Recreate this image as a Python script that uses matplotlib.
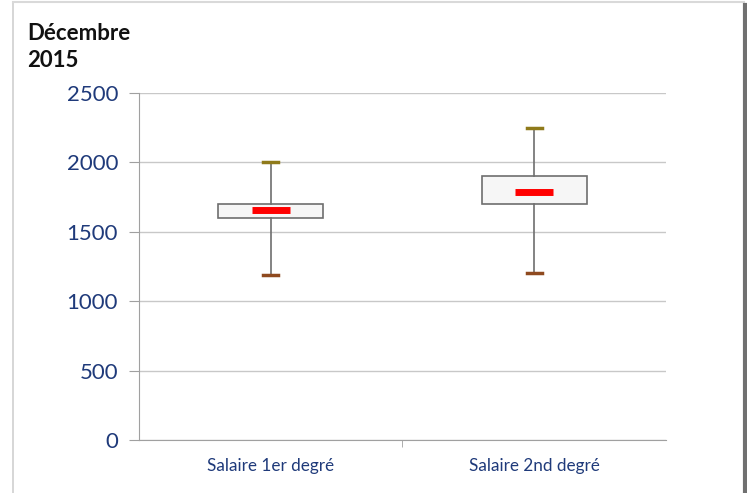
import matplotlib
matplotlib.use("Agg")
import matplotlib.pyplot as plt
from matplotlib.lines import Line2D

# data
labels = ["Salaire 1er degré", "Salaire 2nd degré"]
whislo = [1190, 1200]
q1 = [1600, 1700]
medians = [1660, 1785]
q3 = [1700, 1900]
whishi = [2000, 2250]
yticks = [0, 500, 1000, 1500, 2000, 2500]

plt.rcParams['font.family'] = ['Lato', 'DejaVu Sans']

fig = plt.figure(figsize=(7.47, 4.93), dpi=100)
ax = fig.add_axes([0.186, 0.1075, 0.7056, 0.704])

stats = []
for i in range(len(labels)):
    stats.append(dict(label=labels[i], whislo=whislo[i], q1=q1[i], med=medians[i],
                      q3=q3[i], whishi=whishi[i], fliers=[]))

pos = [1, 2]
bp = ax.bxp(stats, positions=pos, widths=0.4, capwidths=0.055, patch_artist=True,
            showfliers=False,
            boxprops=dict(facecolor='#f6f6f6', edgecolor='#6e6e6e', linewidth=1.2),
            whiskerprops=dict(color='#6e6e6e', linewidth=1.2),
            capprops=dict(linewidth=2.5),
            medianprops=dict(visible=False))

# bottom caps brownish, top caps gold
for k, cap in enumerate(bp['caps']):
    if k % 2 == 0:
        cap.set_color('#8f4a1f')
    else:
        cap.set_color('#8f7a1a')

ax.hlines(medians, [p - 0.072 for p in pos], [p + 0.072 for p in pos],
          colors='#ff0000', linewidth=5, zorder=5)

ax.set_xlim(0.5, 2.5)
ax.set_ylim(0, 2500)
ax.set_yticks(yticks)
ax.set_xticks([1.5], minor=True)
ax.set_xticks(pos)
ax.set_xticklabels(labels)
ax.tick_params(axis='x', which='major', length=0, pad=13, labelsize=12.3, labelcolor='#1f3a7a')
ax.tick_params(axis='x', which='minor', length=5, color='#a0a0a0')
ax.tick_params(axis='y', length=7, color='#a0a0a0', labelsize=16, labelcolor='#1f3a7a', pad=8)

ax.yaxis.grid(True, color='#c8c8c8', linewidth=1)
ax.set_axisbelow(True)
for s in ['top', 'right']:
    ax.spines[s].set_visible(False)
ax.spines['left'].set_color('#a0a0a0')
ax.spines['bottom'].set_color('#a0a0a0')

fig.text(0.036, 0.905, "Décembre\n2015", fontsize=16, fontweight='bold',
         color='#111111', va='center', ha='left', linespacing=1.35)

# outer frame
fig.add_artist(Line2D([0.0174, 0.0174], [0, 0.996], color='#d0d0d0', linewidth=1.2))
fig.add_artist(Line2D([0.0174, 0.996], [0.996, 0.996], color='#d9d9d9', linewidth=1.5))
fig.add_artist(Line2D([0.9975, 0.9975], [0, 0.99], color='#707070', linewidth=3))

fig.savefig("out.png", dpi=100)
